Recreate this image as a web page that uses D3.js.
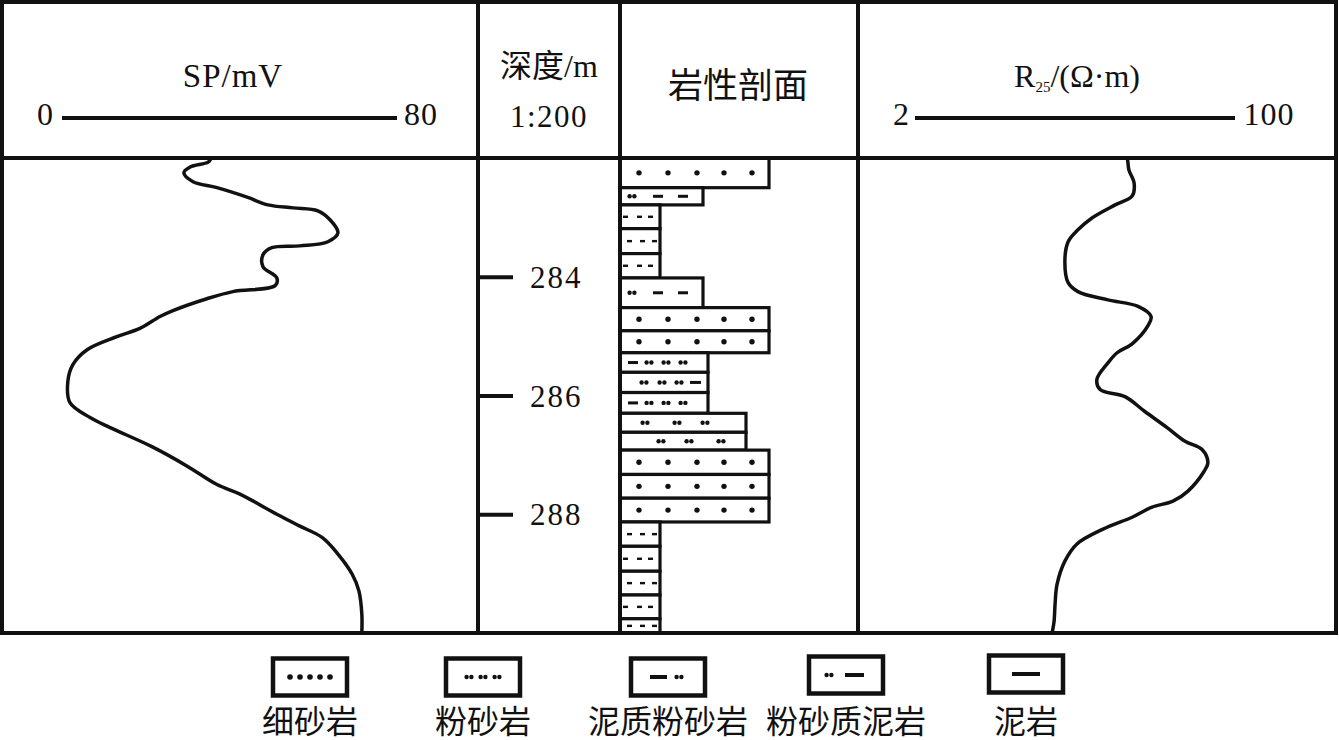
<!DOCTYPE html>
<html>
<head>
<meta charset="utf-8">
<script src="https://cdn.jsdelivr.net/npm/d3@7"></script>
<style>
  html, body { margin: 0; padding: 0; background: #fff; }
  svg { display: block; }
  text { font-family: "Liberation Serif", "Noto Sans CJK SC", serif; fill: #111; }
</style>
</head>
<body>
<svg id="chart" width="1339" height="740"></svg>
<script>
// ---------------- DATA ----------------
const depthTicks = [284, 286, 288];
const lithoTypes = ["细砂岩", "粉砂岩", "泥质粉砂岩", "粉砂质泥岩", "泥岩"];

const layerTop =    [282.00, 282.50, 282.79, 283.19, 283.61, 284.02, 284.52, 284.91, 285.28, 285.61, 285.95, 286.30, 286.62, 286.92, 287.33, 287.73, 288.13, 288.54, 288.96, 289.36, 289.76];
const layerBottom = [282.50, 282.79, 283.19, 283.61, 284.02, 284.52, 284.91, 285.28, 285.61, 285.95, 286.30, 286.62, 286.92, 287.33, 287.73, 288.13, 288.54, 288.96, 289.36, 289.76, 290.00];
const layerLitho = ["细砂岩", "粉砂质泥岩", "泥岩", "泥岩", "泥岩", "粉砂质泥岩", "细砂岩", "细砂岩",
                    "泥质粉砂岩", "泥质粉砂岩", "泥质粉砂岩", "粉砂岩", "粉砂岩", "细砂岩", "细砂岩", "细砂岩",
                    "泥岩", "泥岩", "泥岩", "泥岩", "泥岩"];

const spDepth = [282.00, 282.07, 282.15, 282.25, 282.40, 282.50, 282.66, 282.79, 282.84, 282.89, 283.04, 283.26, 283.41, 283.48, 283.51, 283.63, 283.83, 284.02, 284.15, 284.25, 284.37, 284.57, 284.67, 284.87, 285.01, 285.23, 285.48, 285.76, 286.12, 286.37, 286.54, 286.87, 287.19, 287.50, 287.66, 288.00, 288.20, 288.39, 288.67, 289.01, 289.29, 289.68, 290.00];
const spValue = [35.6, 34.9, 30.6, 29.1, 31.3, 37.0, 44.2, 49.2, 55.2, 61.1, 64.0, 65.9, 63.5, 56.8, 50.1, 48.0, 48.0, 51.3, 50.9, 40.8, 34.6, 26.5, 23.4, 18.6, 13.1, 6.0, 2.6, 1.4, 1.9, 6.7, 11.5, 21.7, 29.9, 37.0, 42.5, 51.3, 56.8, 62.1, 65.9, 69.3, 70.9, 71.6, 71.6];

const rDepth = [282.00, 282.07, 282.20, 282.42, 282.64, 282.79, 283.01, 283.21, 283.41, 283.75, 284.10, 284.25, 284.39, 284.50, 284.67, 284.82, 285.13, 285.28, 285.45, 285.73, 285.90, 286.02, 286.27, 286.54, 286.77, 286.91, 287.13, 287.28, 287.61, 287.78, 287.88, 288.05, 288.25, 288.50, 288.79, 289.18, 289.51, 289.80, 290.00];
const rValue = [67.0, 67.2, 67.5, 69.1, 68.5, 63.3, 56.2, 51.9, 48.9, 47.9, 48.9, 51.9, 61.1, 70.3, 74.3, 73.4, 68.5, 63.9, 61.1, 57.7, 58.7, 66.3, 72.4, 79.2, 84.7, 89.9, 91.7, 90.5, 85.6, 81.0, 74.6, 68.5, 59.6, 51.6, 47.9, 45.5, 44.9, 44.6, 44.0];

const spRange = [0, 80];
const rRange = [2, 100];

// ---------------- LAYOUT ----------------
const svg = d3.select("#chart");
const frame = { left: 2, right: 1336, top: 2, headerBottom: 158, bottom: 633 };
const colX = [478, 620, 858];
const lw = 4;
const ink = "#111";

const y = d3.scaleLinear().domain([282, 290]).range([frame.headerBottom, frame.bottom]);
const xSP = d3.scaleLinear().domain(spRange).range([62, 397]);
const xR = d3.scaleLinear().domain(rRange).range([915, 1235]);
const widthScale = d3.scaleOrdinal().domain(lithoTypes).range([149, 126, 88, 83, 40]);

// clip for tracks
const defs = svg.append("defs");
defs.append("clipPath").attr("id", "clipSP").append("rect")
  .attr("x", frame.left).attr("y", frame.headerBottom).attr("width", colX[0] - frame.left).attr("height", frame.bottom - frame.headerBottom);
defs.append("clipPath").attr("id", "clipR").append("rect")
  .attr("x", colX[2]).attr("y", frame.headerBottom).attr("width", frame.right - colX[2]).attr("height", frame.bottom - frame.headerBottom);

// ---------------- CURVES ----------------
const spPts = spDepth.map((d, i) => [spValue[i], d]);
const rPts = rDepth.map((d, i) => [rValue[i], d]);
const spLine = d3.line().x(d => xSP(d[0])).y(d => y(d[1])).curve(d3.curveCatmullRom.alpha(0.5));
const rLine = d3.line().x(d => xR(d[0])).y(d => y(d[1])).curve(d3.curveCatmullRom.alpha(0.5));

svg.append("path").attr("clip-path", "url(#clipSP)").attr("d", spLine(spPts))
  .attr("fill", "none").attr("stroke", ink).attr("stroke-width", 3.5).attr("stroke-linejoin", "round");
svg.append("path").attr("clip-path", "url(#clipR)").attr("d", rLine(rPts))
  .attr("fill", "none").attr("stroke", ink).attr("stroke-width", 3.5).attr("stroke-linejoin", "round");

// ---------------- LITHOLOGY ----------------
function drawDot(g, cx, cy, r) { g.append("circle").attr("cx", cx).attr("cy", cy).attr("r", r).attr("fill", ink); }
function drawPair(g, cx, cy) { drawDot(g, cx - 2.4, cy, 2.2); drawDot(g, cx + 2.4, cy, 2.2); }
function drawDash(g, x1, x2, cy, t) { g.append("rect").attr("x", x1).attr("y", cy - t / 2).attr("width", x2 - x1).attr("height", t).attr("fill", ink); }

const layers = layerTop.map((t, i) => ({ top: t, bottom: layerBottom[i], litho: layerLitho[i], idx: i }));
const lithoG = svg.append("g");
let counters = {};
layers.forEach(L => {
  const x0 = colX[1];
  const y0 = y(L.top), y1 = y(L.bottom);
  const w = widthScale(L.litho);
  lithoG.append("rect").attr("x", x0).attr("y", y0).attr("width", w).attr("height", y1 - y0)
    .attr("fill", "#fff").attr("stroke", ink).attr("stroke-width", 3.2);
  const cy = (y0 + y1) / 2;
  const k = counters[L.litho] = (counters[L.litho] || 0) + 1;
  const alt = k % 2 === 0;
  if (L.litho === "细砂岩") {
    [19, 48, 77, 104, 132].forEach(dx => drawDot(lithoG, x0 + dx, cy, 2.7));
  } else if (L.litho === "粉砂岩") {
    (alt ? [41, 69, 101] : [25, 57, 85]).forEach(dx => drawPair(lithoG, x0 + dx, cy));
  } else if (L.litho === "泥质粉砂岩") {
    if (alt) {
      [24, 42, 59].forEach(dx => drawPair(lithoG, x0 + dx, cy));
      drawDash(lithoG, x0 + 70, x0 + 81, cy, 3);
    } else {
      drawDash(lithoG, x0 + 8, x0 + 18, cy, 3);
      [29, 46, 63].forEach(dx => drawPair(lithoG, x0 + dx, cy));
    }
  } else if (L.litho === "粉砂质泥岩") {
    drawPair(lithoG, x0 + 12, cy);
    drawDash(lithoG, x0 + 33, x0 + 43, cy, 3);
    drawDash(lithoG, x0 + 58, x0 + 68, cy, 3);
  } else {
    const offs = alt ? [7, 20, 32] : [3, 17, 28];
    offs.forEach(dx => drawDash(lithoG, x0 + dx, x0 + dx + 5, cy, 2.4));
  }
});

// ---------------- DEPTH AXIS ----------------
const axis = d3.axisRight(y).tickValues(depthTicks).tickSize(35).tickPadding(17).tickFormat(d3.format("d"));
const axG = svg.append("g").attr("transform", `translate(${colX[0]},0)`).call(axis);
axG.select(".domain").remove();
axG.selectAll(".tick line").attr("stroke", ink).attr("stroke-width", 4);
axG.selectAll(".tick text").attr("font-family", "Liberation Serif").attr("font-size", 31)
  .attr("letter-spacing", 2).attr("fill", ink).attr("dy", "0.34em");

// ---------------- FRAME ----------------
const fg = svg.append("g").attr("stroke", ink).attr("stroke-width", lw).attr("fill", "none");
fg.append("rect").attr("x", frame.left).attr("y", frame.top)
  .attr("width", frame.right - frame.left).attr("height", frame.bottom - frame.top);
fg.append("line").attr("x1", frame.left).attr("x2", frame.right).attr("y1", frame.headerBottom).attr("y2", frame.headerBottom);
colX.forEach(cx => fg.append("line").attr("x1", cx).attr("x2", cx).attr("y1", frame.top).attr("y2", frame.bottom));

// ---------------- HEADERS ----------------
const hg = svg.append("g");
hg.append("text").attr("x", 233).attr("y", 87).attr("text-anchor", "middle").attr("font-size", 33).attr("letter-spacing", 1).text("SP/mV");
hg.append("text").attr("x", 45).attr("y", 125).attr("text-anchor", "middle").attr("font-size", 32).text(xSP.domain()[0]);
hg.append("text").attr("x", 421).attr("y", 125).attr("text-anchor", "middle").attr("font-size", 32).attr("letter-spacing", 1).text(xSP.domain()[1]);
hg.append("line").attr("x1", xSP.range()[0]).attr("x2", xSP.range()[1]).attr("y1", 118).attr("y2", 118).attr("stroke", ink).attr("stroke-width", 4);

hg.append("text").attr("x", 549).attr("y", 77).attr("text-anchor", "middle").attr("font-size", 32).text("深度/m");
hg.append("text").attr("x", 549).attr("y", 127).attr("text-anchor", "middle").attr("font-size", 31).attr("letter-spacing", 1.5).text("1:200");

hg.append("text").attr("x", 738).attr("y", 98).attr("text-anchor", "middle").attr("font-size", 35).text("岩性剖面");

const rt = hg.append("text").attr("x", 1077).attr("y", 87).attr("text-anchor", "middle").attr("font-size", 32);
rt.append("tspan").text("R");
rt.append("tspan").attr("font-size", 15).attr("dy", 5).text("25");
rt.append("tspan").attr("dy", -5).text("/(Ω·m)");
hg.append("text").attr("x", 901).attr("y", 125).attr("text-anchor", "middle").attr("font-size", 32).text(xR.domain()[0]);
hg.append("text").attr("x", 1269).attr("y", 125).attr("text-anchor", "middle").attr("font-size", 32).attr("letter-spacing", 1).text(xR.domain()[1]);
hg.append("line").attr("x1", xR.range()[0]).attr("x2", xR.range()[1]).attr("y1", 118).attr("y2", 118).attr("stroke", ink).attr("stroke-width", 4);

// ---------------- LEGEND ----------------
const legendX = d3.scaleOrdinal().domain(lithoTypes).range([310, 483, 668, 846, 1026]);
const legendBoxY = d3.scaleOrdinal().domain(lithoTypes).range([677, 677, 677, 675, 674]);
const lg = svg.append("g");
lithoTypes.forEach(t => {
  const cx = legendX(t), cy = legendBoxY(t);
  lg.append("rect").attr("x", cx - 37).attr("y", cy - 18.5).attr("width", 74).attr("height", 37)
    .attr("fill", "#fff").attr("stroke", ink).attr("stroke-width", 4.5);
  if (t === "细砂岩") {
    [-20, -10, 0, 10, 20].forEach(d => drawDot(lg, cx + d, cy, 2.8));
  } else if (t === "粉砂岩") {
    [-14, 0, 14].forEach(d => drawPair(lg, cx + d, cy));
  } else if (t === "泥质粉砂岩") {
    drawDash(lg, cx - 18, cx - 1, cy, 4);
    drawPair(lg, cx + 11, cy);
  } else if (t === "粉砂质泥岩") {
    drawPair(lg, cx - 17, cy);
    drawDash(lg, cx - 1, cx + 18, cy, 4);
  } else {
    drawDash(lg, cx - 14, cx + 14, cy, 4);
  }
  lg.append("text").attr("x", cx).attr("y", 733).attr("text-anchor", "middle")
    .attr("font-family", "Noto Sans CJK SC").attr("font-size", 32).text(t);
});
</script>
</body>
</html>
